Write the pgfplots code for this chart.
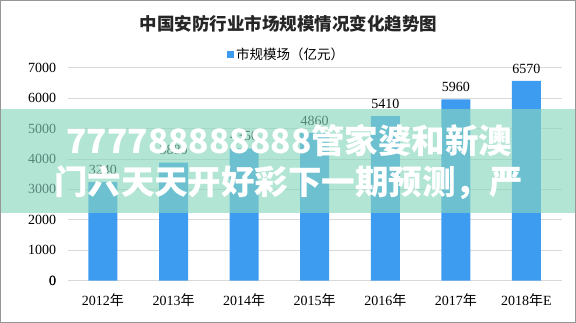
\documentclass[border=0pt]{standalone}
\usepackage{pgfplots}
\pgfplotsset{compat=1.18}
\usepackage{fontspec}
\setmainfont{Liberation Serif}
\newfontfamily\cjk{Noto Sans CJK SC}
\definecolor{barblue}{RGB}{61,156,240}
\definecolor{gridgray}{RGB}{217,217,217}
\definecolor{band}{RGB}{136,214,190}
\definecolor{framegray}{RGB}{150,150,150}
\begin{document}
\begin{tikzpicture}[x=1pt,y=1pt]
\useasboundingbox (0,0) rectangle (576,323);
\fill[white] (0,0) rectangle (576,323);
\begin{axis}[
  at={(67.7pt,42.3pt)}, anchor=south west,
  scale only axis, width=494pt, height=213pt,
  xmin=-0.5, xmax=6.5, ymin=0, ymax=7000,
  ytick={0,1000,...,7000},
  xtick={0,...,6},
  xticklabels={2012{\cjk 年},2013{\cjk 年},2014{\cjk 年},2015{\cjk 年},2016{\cjk 年},2017{\cjk 年},2018{\cjk 年}E},
  axis line style={draw=none},
  major tick length=0pt,
  ymajorgrids, grid style={gridgray, line width=0.8pt},
  extra y ticks={0}, extra y tick style={grid style={gridgray,line width=0.8pt}},
  tick label style={font=\fontsize{14}{16}\selectfont, text=black},
  yticklabel style={xshift=-8pt},
  xticklabel style={yshift=-9pt},
  /pgf/number format/assume math mode=true,
  /pgf/number format/1000 sep={},
  scaled y ticks=false,
  nodes near coords,
  every node near coord/.append style={font=\fontsize{14}{16}\selectfont, text=black, yshift=4pt},
  legend style={at={(axis description cs:0.443,1.06)}, anchor=center, draw=none, fill=none,
    font=\cjk\fontsize{13.5}{15}\selectfont, inner sep=0pt},
  legend image code/.code={\fill[barblue] (0pt,-3.5pt) rectangle (7pt,3.5pt);},
  clip=false,
]
\addplot[ybar, bar width=29pt, fill=barblue, draw=none] coordinates {
(0,3240) (1,3880) (2,4350) (3,4860) (4,5410) (5,5960) (6,6570)};
\addlegendentry{市规模场（亿元）}
\end{axis}
\node[font=\cjk\bfseries\fontsize{17.5}{19}\selectfont, text=black!85] at (288.5,299) {中国安防行业市场规模情况变化趋势图};
\fill[band, opacity=0.63] (0,110.3) rectangle (576,214);
\node[font=\cjk\bfseries\fontsize{33.5}{36}\selectfont, text=white, inner sep=0pt] at (289.5,182) {777788888888管家婆和新澳};
\node[font=\cjk\bfseries\fontsize{33.5}{36}\selectfont, text=white, inner sep=0pt] at (288.5,140) {门六天天开好彩下一期预测，严};
\draw[framegray, line width=1pt] (0.5,0.5) rectangle (575.5,322.5);
\end{tikzpicture}
\end{document}
